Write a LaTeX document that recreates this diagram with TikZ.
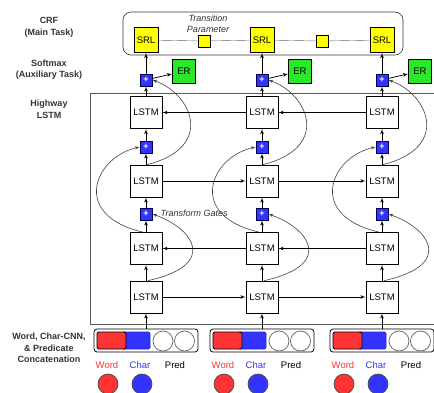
\documentclass[tikz,border=0pt]{standalone}
\usepackage{fontspec}
\setmainfont{Liberation Sans}
\usetikzlibrary{arrows}
\definecolor{srlyellow}{RGB}{255,255,0}
\definecolor{ergreen}{RGB}{40,232,40}
\definecolor{wordred}{RGB}{255,51,51}
\definecolor{charblue}{RGB}{51,51,255}
\tikzset{font=\fontsize{9.5}{10.5}\selectfont}
\tikzset{every node/.append style={transform shape=false}}
\tikzset{
  lstm/.style={draw, fill=white, minimum width=32pt, minimum height=32pt, inner sep=0pt},
  gate/.style={draw=blue!30!black, fill=charblue, minimum size=12pt, inner sep=0pt,
    text=white, font=\bfseries\fontsize{9}{9}\selectfont},
  srl/.style={draw, fill=srlyellow, minimum width=24pt, minimum height=25pt, inner sep=0pt},
  trans/.style={draw, fill=srlyellow, minimum size=12pt, inner sep=0pt},
  er/.style={draw, fill=ergreen, minimum width=23pt, minimum height=24pt, inner sep=0pt},
  concat/.style={draw, rounded corners=3pt, minimum width=104pt, minimum height=23pt, inner sep=0pt},
  wordbox/.style={draw=black, fill=wordred, rounded corners=1.5pt, minimum width=29pt, minimum height=17pt, inner sep=0pt},
  charbox/.style={draw=charblue!80!black, fill=charblue, rounded corners=1.5pt, minimum width=28pt, minimum height=17pt, inner sep=0pt},
  predcirc/.style={circle, draw=black!60, fill=white, minimum size=20pt, inner sep=0pt},
  lab/.style={font=\bfseries\fontsize{9}{11.5}\selectfont, align=center, text=black!80}
}

\begin{document}
\begin{tikzpicture}[x=1pt, y=-1pt, line width=0.75pt, >=latex']
  \useasboundingbox (0,0) rectangle (434,392);
  % outer frames
  \draw[rounded corners=8pt, black!80, line width=0.6pt] (123,12) rectangle (403,55);
  \draw[black!65, line width=0.9pt] (450,93) -- (90,93) -- (90,324) -- (450,324);
  % layer labels
  \node[lab] (crf) at (49,27.5) {CRF\\(Main Task)};
  \node[lab] (soft) at (49,69.5) {Softmax\\(Auxiliary Task)};
  \node[lab] (hw) at (49,109.5) {Highway\\LSTM};
  \node[lab] (emb) at (49,348) {Word, Char-CNN,\\\& Predicate\\Concatenation};
  \node[font=\itshape\fontsize{9}{11}\selectfont, align=center, text=black!80] (tp) at (208,23.5) {Transition\\Parameter};
  \node[trans] (ta) at (204,41) {};
  \node[trans] (tb) at (322,41) {};
  \foreach \x/\c in {146/a,262/b,382/c}{
    \node[srl] (srl\c) at (\x,40) {SRL};
    \node[gate] (g1\c) at (\x,80) {+};
    \node[er] (er\c) at (\x+38,71) {ER};
    \node[lstm] (l1\c) at (\x,112.5) {LSTM};
    \node[gate] (g2\c) at (\x,147) {+};
    \node[lstm] (l2\c) at (\x,181) {LSTM};
    \node[gate] (g3\c) at (\x,214) {+};
    \node[lstm] (l3\c) at (\x,248.5) {LSTM};
    \node[lstm] (l4\c) at (\x,297) {LSTM};
    \node[concat] (in\c) at (\x,340.5) {};
    \node[charbox] (ch\c) at (\x-10,340.5) {};
    \node[wordbox] (wd\c) at (\x-34.5,340.5) {};
    \node[predcirc] (pa\c) at (\x+17,341) {};
    \node[predcirc] (pb\c) at (\x+38.5,341) {};
    \node[text=wordred] (wl\c) at (\x-39,365) {Word};
    \node[text=charblue] (cl\c) at (\x-6,365) {Char};
    \node (pl\c) at (\x+29,365) {Pred};
    \node[circle, draw=black!70, fill=wordred, minimum size=20pt] (wc\c) at (\x-38,384) {};
    \node[circle, draw=black!70, fill=charblue, minimum size=20pt] (cc\c) at (\x-4,384) {};
    % bottom-up flow
    \draw[->] (in\c.north) -- (l4\c);
    \draw[->] (l4\c) -- (l3\c);
    \draw[->] (l3\c) -- (g3\c);
    \draw[->] (g3\c) -- (l2\c);
    \draw[->] (l2\c) -- (g2\c);
    \draw[->] (g2\c) -- (l1\c);
    \draw[->] (l1\c) -- (g1\c);
    \draw[->] (g1\c) -- (srl\c);
    \draw[->] (g1\c) -- (er\c);
    % highway connections
    \draw[->, black!75, line width=0.6pt] ([xshift=2pt]l4\c.north) .. controls +(72,-16) and +(40,14) .. (g3\c.east);
    \draw[->, black!75, line width=0.6pt] ([xshift=-3pt]l3\c.north) .. controls +(-73,-17) and +(-45,10) .. (g2\c.west);
    \draw[->, black!75, line width=0.6pt] ([xshift=1pt]l2\c.north) .. controls +(68,-17) and +(40,14) .. (g1\c.east);
  }
  \node[anchor=west, font=\itshape\fontsize{9}{9}\selectfont, text=black!80] (tg) at (157,213) {Transform Gates};
  % CRF chain
  \draw[black!60, line width=0.4pt] (srla) -- (ta) -- (srlb) -- (tb) -- (srlc);
  % recurrences
  \draw[->] (l1b) -- (l1a);
  \draw[->] (l1c) -- (l1b);
  \draw[->] (l2a) -- (l2b);
  \draw[->] (l2b) -- (l2c);
  \draw[->] (l3b) -- (l3a);
  \draw[->] (l3c) -- (l3b);
  \draw[->] (l4a) -- (l4b);
  \draw[->] (l4b) -- (l4c);
\end{tikzpicture}
\end{document}
